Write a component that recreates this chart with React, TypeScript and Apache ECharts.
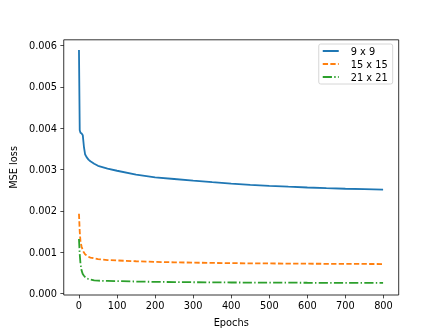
import React, { useEffect, useRef } from "react";
import * as echarts from "echarts";

const epochs = [0, 2, 4, 7, 10, 13, 16, 20, 25, 30, 40, 50, 75, 100, 150, 200, 250, 300, 350, 400, 450, 500, 550, 600, 650, 700, 750, 799];
const loss9 = [0.00589, 0.00395, 0.00389, 0.00387, 0.00383, 0.00355, 0.00337, 0.0033, 0.00324, 0.0032, 0.00314, 0.00309, 0.00302, 0.00297, 0.002878, 0.00281, 0.00277, 0.00273, 0.002693, 0.00266, 0.00263, 0.002605, 0.002584, 0.002565, 0.002549, 0.002535, 0.002523, 0.002512];
const loss15 = [0.00193, 0.0015, 0.00125, 0.00113, 0.00105, 0.00099, 0.00095, 0.00092, 0.00089, 0.00087, 0.00085, 0.00083, 0.00081, 0.0008, 0.00078, 0.000765, 0.000755, 0.000747, 0.00074, 0.000735, 0.00073, 0.000727, 0.000724, 0.000721, 0.000719, 0.000717, 0.000715, 0.000713];
const loss21 = [0.00132, 0.00095, 0.00072, 0.00055, 0.00047, 0.00043, 0.0004, 0.00037, 0.00035, 0.00034, 0.00032, 0.00031, 0.000305, 0.0003, 0.00029, 0.000282, 0.000277, 0.000273, 0.00027, 0.000267, 0.000265, 0.000263, 0.000262, 0.00026, 0.000259, 0.000258, 0.000257, 0.000256];
const seriesNames = ["9 x 9", "15 x 15", "21 x 21"];
const xTicks = [0, 100, 200, 300, 400, 500, 600, 700, 800];
const yTicks = [0, 0.001, 0.002, 0.003, 0.004, 0.005, 0.006];

export default function App() {
  const ref = useRef<HTMLDivElement>(null);
  useEffect(() => {
    if (!ref.current) return;
    const chart = echarts.init(ref.current, null, { renderer: "svg" });
    const font = "DejaVu Sans";
    const mk = (name: string, vals: number[], color: string, dash: number[] | string) => ({
      name,
      type: "line",
      data: epochs.map((e, i) => [e, vals[i]]),
      showSymbol: false,
      symbol: "none",
      lineStyle: { color, width: 1.8, type: dash },
      itemStyle: { color },
    });
    chart.setOption({
      animation: false,
      textStyle: { fontFamily: font },
      grid: {
        left: 55.4,
        right: 44.3,
        top: 39.8,
        bottom: 36.5,
        show: true,
        borderColor: "#000",
        borderWidth: 0.8,
        backgroundColor: "transparent",
      },
      legend: {
        orient: "vertical",
        right: 50.3,
        top: 44,
        itemWidth: 16,
        itemHeight: 10,
        itemGap: 3,
        padding: [2, 5, 2, 3],
        backgroundColor: "rgba(255,255,255,0.8)",
        borderColor: "#cccccc",
        borderWidth: 0.8,
        borderRadius: 2,
        itemStyle: { opacity: 0, color: "transparent", borderWidth: 0 },
        textStyle: { fontFamily: font, fontSize: 9.8, color: "#000", padding: [0, 0, 0, 7] },
        data: seriesNames,
      },
      xAxis: {
        type: "value",
        min: -40,
        max: 840,
        name: "Epochs",
        nameLocation: "middle",
        nameGap: 22,
        nameTextStyle: { fontFamily: font, fontSize: 9.8, color: "#000" },
        axisLine: { show: false, onZero: false },
        splitLine: { show: false },
        axisTick: { show: true, length: 3.4, customValues: xTicks, lineStyle: { color: "#000", width: 0.7 } },
        axisLabel: { customValues: xTicks, margin: 5, fontFamily: font, fontSize: 9.8, color: "#000" },
      },
      yAxis: {
        type: "value",
        min: -0.000036,
        max: 0.006138,
        name: "MSE loss",
        nameLocation: "middle",
        nameGap: 38,
        nameTextStyle: { fontFamily: font, fontSize: 9.8, color: "#000" },
        axisLine: { show: false, onZero: false },
        splitLine: { show: false },
        axisTick: { show: true, length: 3.4, customValues: yTicks, lineStyle: { color: "#000", width: 0.7 } },
        axisLabel: {
          customValues: yTicks,
          margin: 6.8,
          fontFamily: font,
          fontSize: 9.8,
          color: "#000",
          formatter: (v: number) => v.toFixed(3),
        },
      },
      series: [
        mk(seriesNames[0], loss9, "#1f77b4", "solid"),
        mk(seriesNames[1], loss15, "#ff7f0e", [5.3, 2.3]),
        mk(seriesNames[2], loss21, "#2ca02c", [9.2, 2.3, 1.4, 2.3]),
      ],
    });
    return () => chart.dispose();
  }, []);
  return <div ref={ref} style={{ position: "fixed", left: 0, top: 0, width: 443, height: 332 }} />;
}
